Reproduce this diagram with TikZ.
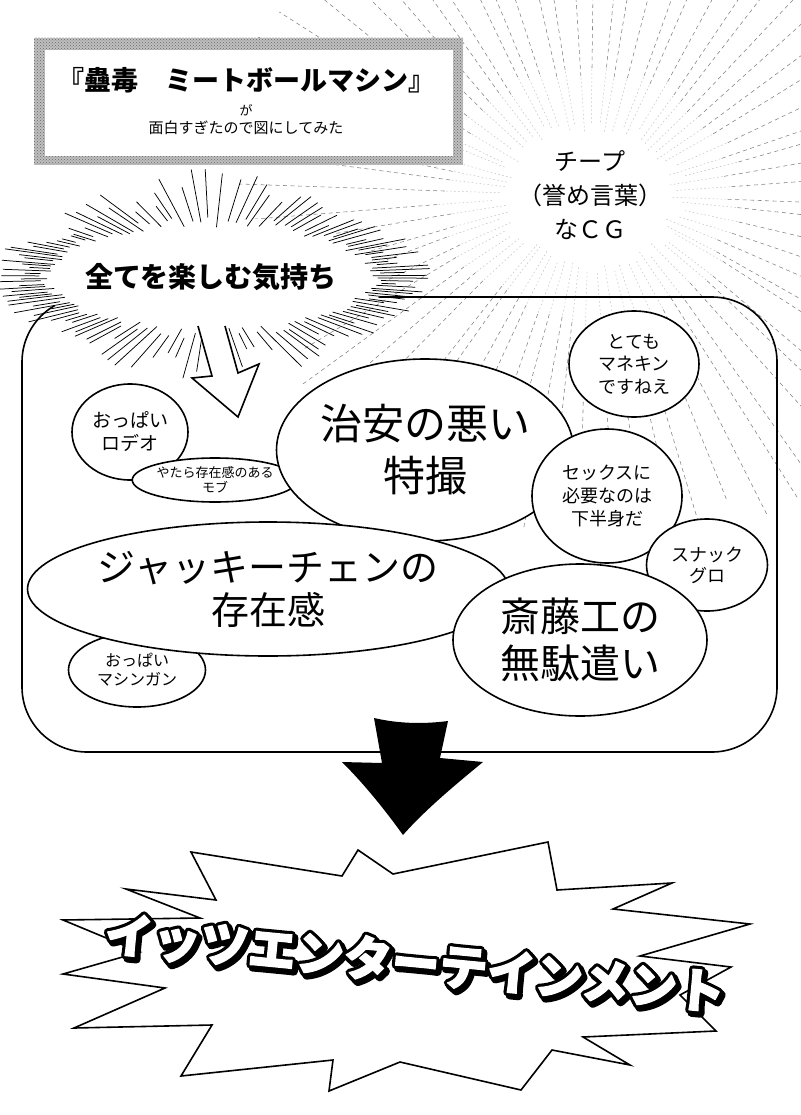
\documentclass[tikz,border=0pt]{standalone}
\usepackage{fontspec}
\setmainfont{Noto Sans CJK JP}
\usetikzlibrary{calc,patterns,shapes.geometric}
\newcommand\fs[2]{\fontsize{#1}{#2}\selectfont}
\newcommand\logotext{イッツエンターテインメント}
\newcommand\stroked[2]{\special{pdf:literal direct 2 Tr #1 w 1 j}#2\special{pdf:literal direct 0 Tr}}

\begin{document}
\begin{tikzpicture}[x=1pt, y=-1pt,
   bubble/.style={draw, ellipse, fill=white, line width=1.6pt, inner sep=0pt,
                  align=center},
   ray/.style={black!50, line width=0.55pt, dash pattern=on 4pt off 3.5pt},
   rayin/.style={black!25, line width=0.5pt, dash pattern=on 1.5pt off 2.5pt},
   spike/.style={line width=0.75pt, line cap=round},
   outline/.style={line width=1.6pt, line join=miter, fill=white},
   logo/.style={font=\bfseries\fs{48}{48}, inner sep=0pt, rotate=-5.5},
]
\useasboundingbox (0,0) rectangle (800,1115);
\pgfmathsetseed{4711}
% rays round the cheap CG label
\coordinate (rc) at (590,195);
\foreach \i in {0,...,71}{
  \pgfmathsetmacro\ang{\i*5+rnd*2.5}
  \pgfmathsetmacro\ri{0.85+rnd*0.2}
  \pgfmathsetmacro\ro{3.2+rnd*0.5}
  \draw[rayin] ($(rc)+({95*\ri*cos(\ang)},{75*\ri*sin(\ang)})$)
            -- ($(rc)+({(95*\ri+55)*cos(\ang)},{(75*\ri+55)*sin(\ang)})$);
  \draw[ray] ($(rc)+({(95*\ri+55)*cos(\ang)},{(75*\ri+55)*sin(\ang)})$)
            -- ($(rc)+({100*\ro*cos(\ang)},{100*\ro*sin(\ang)})$);
}
\node[font=\fs{24}{34}, align=center] (cheap) at (590,195)
  {チープ\\（誉め言葉）\\なＣＧ};
% title box
\fill[black!25] (34,38) rectangle (463,165);
\fill[pattern=crosshatch dots, pattern color=black!60] (34,38) rectangle (463,165);
\fill[white] (45,50) rectangle (453,156);
\node[font=\bfseries\fs{27}{27}] (title) at (246,80) {『蠱毒　ミートボールマシン』};
\node[font=\fs{13}{13}] (ga) at (246,110) {が};
\node[font=\fs{15}{15}] (sub) at (246,128) {面白すぎたので図にしてみた};
% frame
\draw[line width=1.6pt, rounded corners=65pt] (22,297) rectangle (777,752);
% burst
\coordinate (bc) at (211,277);
\fill[white] (bc) ellipse [x radius=178pt, y radius=60pt];
\foreach \i in {0,...,129}{
  \pgfmathsetmacro\ang{\i*2.77+rnd*1.5}
  \pgfmathsetmacro\sa{rnd*14}
  \pgfmathsetmacro\len{24+rnd*38}
  \coordinate (sp) at ({211+158*cos(\ang)},{277+50*sin(\ang)});
  \draw[spike] ($(sp)!-\sa pt!(bc)$) -- ($(sp)!-\len pt!(bc)$);
}
\node[font=\bfseries\fs{28}{28}] (mood) at (bc) {全てを楽しむ気持ち};
% hollow arrow
\draw[outline] (198,326) -- (212,376) -- (192,378) -- (238,417)
  -- (259,364) -- (238,373) -- (225,326);
% bubbles
\node[bubble, minimum width=116pt, minimum height=96pt, font=\fs{19}{23}]
  (rodeo) at (130,432) {おっぱい\\ロデオ};
\node[bubble, minimum width=164pt, minimum height=44pt, font=\fs{13}{15}]
  (mob) at (215,480) {やたら存在感のある\\モブ};
\node[bubble, minimum width=296pt, minimum height=182pt, font=\fs{42}{52}]
  (chian) at (425,450) {治安の悪い\\特撮};
\node[bubble, minimum width=130pt, minimum height=106pt, font=\fs{18}{22.5}]
  (mannequin) at (634,364) {とても\\マネキン\\ですねえ};
\node[bubble, minimum width=150pt, minimum height=134pt, font=\fs{18}{23}]
  (sex) at (607,496) {セックスに\\必要なのは\\下半身だ};
\node[bubble, minimum width=121pt, minimum height=92pt, font=\fs{18}{21}]
  (snack) at (707,565) {スナック\\グロ};
\node[bubble, minimum width=137pt, minimum height=74pt, font=\fs{16}{19}]
  (gun) at (137,670) {おっぱい\\マシンガン};
\node[bubble, minimum width=462pt, minimum height=134pt, font=\fs{38}{43}]
  (jackie) at (268,589) {ジャッキーチェンの\\存在感};
\node[bubble, minimum width=254pt, minimum height=152pt, font=\fs{40}{47}]
  (saito) at (580,640) {斎藤工の\\無駄遣い};
% black arrow
\fill (374,718) .. controls (400,724) and (425,724) .. (448,721) -- (440,758)
  -- (483,762) .. controls (455,785) and (425,810) .. (403,835)
  .. controls (385,810) and (365,785) .. (342,762) -- (382,763) -- cycle;
% star
\draw[outline] (191,852) -- (342,876) -- (358,850) -- (393,874) -- (548,842)
  -- (557,890) -- (672,883) -- (613,909) -- (750,924) -- (640,956)
  -- (731,967) -- (680,995) -- (716,1031) -- (583,1037) -- (630,1065)
  -- (552,1050) -- (521,1090) -- (400,1062) -- (329,1091) -- (333,1060)
  -- (181,1076) -- (212,1025) -- (74,1028) -- (165,988) -- (63,974)
  -- (140,952) -- (63,920) -- (200,918) -- (126,889) -- (216,900) -- cycle;
\coordinate (lg) at (415,963);
\node[logo, text=black] (shade) at ($(lg)+(2.5,3)$) {\stroked{8}{\logotext}};
\node[logo, text=black] (rim) at (lg) {\stroked{7.5}{\logotext}};
\node[logo, text=white] (logo) at (lg) {\stroked{1.2}{\logotext}};
\end{tikzpicture}
\end{document}
